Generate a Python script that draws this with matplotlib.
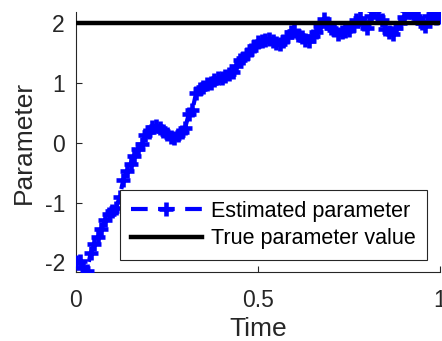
import numpy as np
import matplotlib
matplotlib.use("Agg")
import matplotlib.pyplot as plt

# ── Data ──────────────────────────────────────────────────────────────────────
time = np.round(np.arange(0, 1.0001, 0.01), 2)
estimated = [
    -2.00, -1.97, -2.10, -2.15, -1.85, -1.70, -1.58, -1.45, -1.30, -1.20,
    -1.15, -1.10, -0.90, -0.62, -0.47, -0.35, -0.22, -0.10, -0.02, 0.12,
    0.18, 0.26, 0.27, 0.24, 0.20, 0.14, 0.10, 0.08, 0.12, 0.18,
    0.25, 0.48, 0.55, 0.83, 0.90, 0.93, 0.97, 1.00, 1.04, 1.07,
    1.08, 1.12, 1.14, 1.18, 1.28, 1.38, 1.42, 1.48, 1.55, 1.62,
    1.68, 1.70, 1.72, 1.73, 1.70, 1.66, 1.65, 1.70, 1.76, 1.85,
    1.86, 1.80, 1.76, 1.72, 1.70, 1.78, 1.84, 1.95, 2.07, 2.00,
    1.92, 1.88, 1.82, 1.84, 1.86, 1.88, 1.95, 2.05, 2.08, 1.98,
    1.92, 2.12, 2.22, 2.10, 2.05, 1.90, 1.85, 1.82, 1.92, 2.00,
    2.10, 2.22, 2.18, 2.12, 2.08, 2.00, 1.95, 2.12, 2.15, 2.08,
    2.10,
]
true_value = 2.0
x_ticks = [0, 0.5, 1]
y_ticks = [-2, -1, 0, 1, 2]
labels = ["Estimated parameter", "True parameter value"]

# ── Style ─────────────────────────────────────────────────────────────────────
TXT = "#262626"
plt.rcParams["font.family"] = ["Liberation Sans", "DejaVu Sans"]
plt.rcParams["axes.unicode_minus"] = False

W, H = 442, 341
fig = plt.figure(figsize=(W / 100, H / 100), dpi=100, facecolor="white")
ax = fig.add_axes([76 / W, (H - 272) / H, (440 - 76) / W, (272 - 12) / H])

ax.plot(time, estimated, color="blue", linestyle=(0, (4, 2.5)), linewidth=3,
        marker="+", markersize=10, markeredgewidth=3.3, label=labels[0], zorder=3)
ax.plot([0, 1], [true_value, true_value], color="black", linewidth=3.2,
        label=labels[1], zorder=4)

ax.set_xlim(0, 1)
ax.set_ylim(-2.16, 2.18)
ax.set_xticks(x_ticks)
ax.set_xticklabels(["0", "0.5", "1"])
ax.set_yticks(y_ticks)
ax.tick_params(direction="in", length=4, width=0.8, colors=TXT,
               labelsize=16.5)
ax.tick_params(axis="x", pad=12)
ax.tick_params(axis="y", pad=8)
for side in ["top", "right"]:
    ax.spines[side].set_visible(False)
for side in ["left", "bottom"]:
    ax.spines[side].set_color(TXT)
    ax.spines[side].set_linewidth(0.8)

ax.set_xlabel("Time", fontsize=19, color=TXT, labelpad=4)
ax.set_ylabel("Parameter", fontsize=19, color=TXT, labelpad=6)

leg = ax.legend(loc="lower right", bbox_to_anchor=(0.964, 0.046),
                borderaxespad=0, fontsize=15.5, fancybox=False, framealpha=1,
                edgecolor=TXT, handlelength=3.3, handletextpad=0.45,
                borderpad=0.5, labelspacing=0.3)
leg.get_frame().set_linewidth(0.8)
for t in leg.get_texts():
    t.set_color("black")

fig.savefig("out.png", dpi=100, facecolor="white")
